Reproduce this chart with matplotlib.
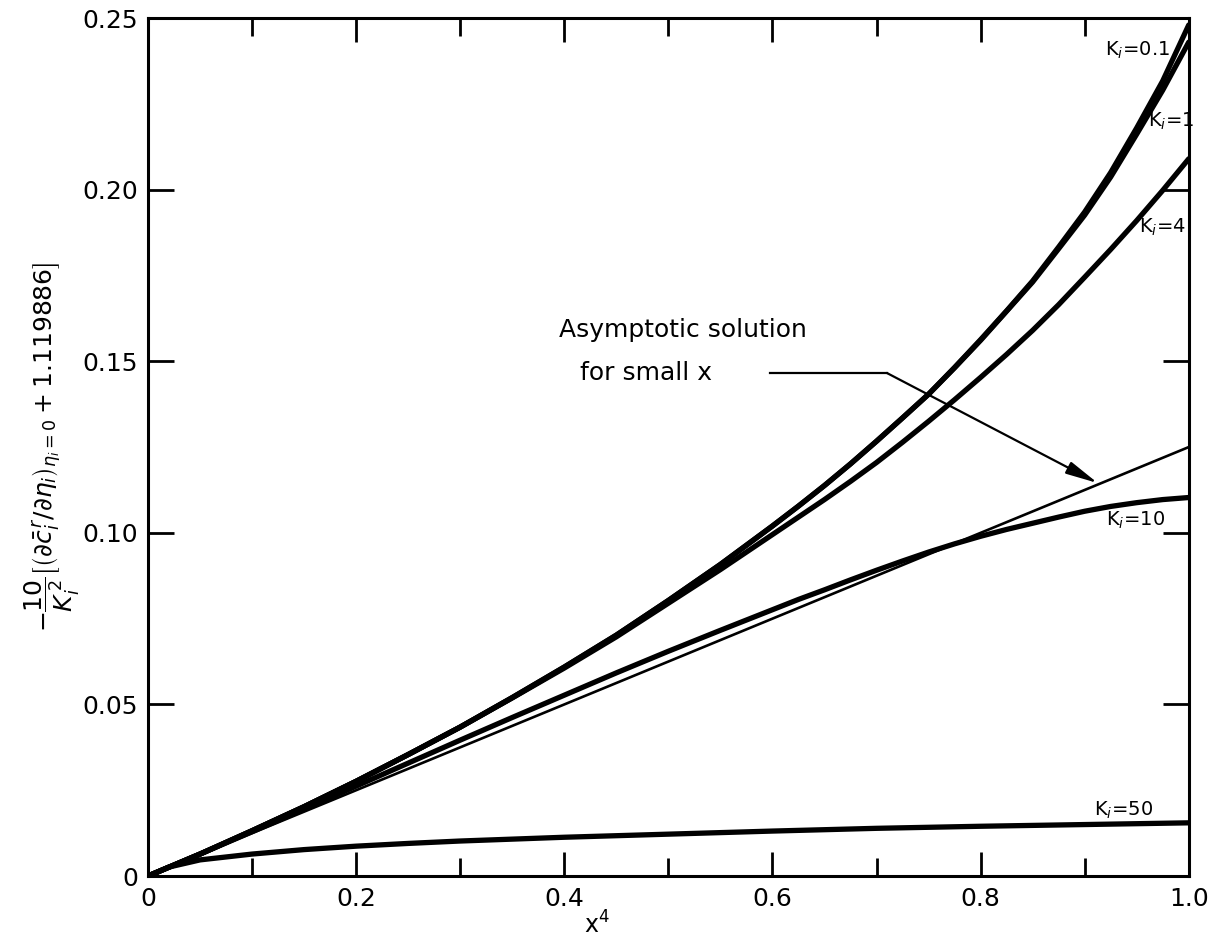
import matplotlib
matplotlib.use("Agg")
import matplotlib.pyplot as plt

# x^4 grid the curves were read on (denser where they bend)
x4 = [0.0, 0.05, 0.10, 0.15, 0.20, 0.25, 0.30, 0.35, 0.40, 0.45, 0.50, 0.55,
      0.600, 0.625, 0.650, 0.675, 0.700, 0.725, 0.750, 0.775, 0.800, 0.825,
      0.850, 0.875, 0.900, 0.925, 0.950, 0.975, 1.0]

k01 = [0.0, 0.0064, 0.0132, 0.0202, 0.0276, 0.0354, 0.0434, 0.0520, 0.0609, 0.0702, 0.0803, 0.0908,
       0.1020, 0.1078, 0.1138, 0.1201, 0.1267, 0.1335, 0.1404, 0.1482, 0.1563, 0.1647,
       0.1734, 0.1833, 0.1935, 0.2050, 0.2180, 0.2317, 0.2480]
k1 = [0.0, 0.0064, 0.0132, 0.0202, 0.0276, 0.0354, 0.0434, 0.0520, 0.0609, 0.0702, 0.0803, 0.0908,
      0.1020, 0.1078, 0.1138, 0.1201, 0.1267, 0.1335, 0.1404, 0.1481, 0.1561, 0.1646,
      0.1731, 0.1828, 0.1926, 0.2037, 0.2162, 0.2290, 0.2430]
k4 = [0.0, 0.0064, 0.0132, 0.0202, 0.0276, 0.0354, 0.0434, 0.0519, 0.0606, 0.0697, 0.0795, 0.0893,
      0.0995, 0.1046, 0.1097, 0.1150, 0.1205, 0.1264, 0.1325, 0.1388, 0.1453, 0.1520,
      0.1590, 0.1665, 0.1745, 0.1826, 0.1910, 0.1998, 0.2090]
k10 = [0.0, 0.0064, 0.0129, 0.0195, 0.0262, 0.0329, 0.0396, 0.0462, 0.0527, 0.0592, 0.0655, 0.0716,
       0.0776, 0.0806, 0.0834, 0.0863, 0.0891, 0.0918, 0.0944, 0.0968, 0.0990, 0.1010,
       0.1028, 0.1046, 0.1063, 0.1077, 0.1088, 0.1097, 0.1103]

k50_x = [0.0, 0.02, 0.05, 0.10, 0.15, 0.20, 0.25, 0.30, 0.40, 0.50, 0.60, 0.70, 0.80, 0.90, 1.0]
k50 = [0.0, 0.0026, 0.0047, 0.0064, 0.0077, 0.0087, 0.0095, 0.0102, 0.0113, 0.0122, 0.0131,
       0.0139, 0.0145, 0.0150, 0.0155]

asym_x = [0.0, 1.0]
asym_y = [0.0, 0.125]

curve_labels = ['0.1', '1', '4', '10', '50']
label_pos = [(0.951, 0.2407), (0.983, 0.2200), (0.975, 0.1890), (0.949, 0.1037), (0.937, 0.0192)]

x_ticks = [0.0, 0.2, 0.4, 0.6, 0.8, 1.0]
x_ticklabels = ['0', '0.2', '0.4', '0.6', '0.8', '1.0']
x_minor = [0.1, 0.3, 0.5, 0.7, 0.9]
y_ticks = [0.0, 0.05, 0.10, 0.15, 0.20, 0.25]
y_ticklabels = ['0', '0.05', '0.10', '0.15', '0.20', '0.25']

plt.rcParams['font.family'] = ['DejaVu Sans']

fig = plt.figure(figsize=(12.13, 9.49), dpi=100)
ax = fig.add_axes([0.122, 0.0769, 0.858, 0.904])

thick = 3.8
for ys in (k01, k1, k4, k10):
    ax.plot(x4, ys, color='black', lw=thick, solid_capstyle='round', solid_joinstyle='round')
ax.plot(k50_x, k50, color='black', lw=thick, solid_capstyle='round', solid_joinstyle='round')
ax.plot(asym_x, asym_y, color='black', lw=1.9)

for name, (lx, ly) in zip(curve_labels, label_pos):
    ax.text(lx, ly, r'K$_i$=' + name, fontsize=14, ha='center', va='center')

# annotation for the asymptotic line
ax.text(0.395, 0.1590, 'Asymptotic solution', fontsize=18, ha='left', va='center')
ax.text(0.415, 0.1466, 'for small x', fontsize=18, ha='left', va='center')
ax.plot([0.5975, 0.7099], [0.1466, 0.1466], color='black', lw=1.6)
ax.annotate('', xy=(0.9126, 0.1145), xytext=(0.7099, 0.1466),
            arrowprops=dict(arrowstyle='-|>,head_width=0.14,head_length=0.7',
                            color='black', lw=1.6, mutation_scale=28,
                            shrinkA=0, shrinkB=0))

ax.set_xlim(0, 1.0)
ax.set_ylim(0, 0.25)
ax.set_xticks(x_ticks)
ax.set_xticklabels(x_ticklabels)
ax.set_xticks(x_minor, minor=True)
ax.set_yticks(y_ticks)
ax.set_yticklabels(y_ticklabels)

ax.tick_params(axis='x', which='major', direction='in', top=True, length=17, width=2,
               labelsize=18, pad=8)
ax.tick_params(axis='x', which='minor', direction='in', top=True, length=13, width=2)
ax.tick_params(axis='y', which='major', direction='in', right=True, length=19, width=2,
               labelsize=18, pad=7)
for side in ax.spines.values():
    side.set_linewidth(2.2)

ax.text(0.431, -0.057, r'x$^4$', transform=ax.transAxes, fontsize=17,
        ha='center', va='center')
ax.set_ylabel(r'$-\dfrac{10}{K_i^{\,2}}\left[\left(\partial \bar{c}_i^{\,r}/\partial \eta_i\right)_{\eta_i=0}+1.119886\right]$',
              fontsize=18)
ax.yaxis.set_label_coords(-0.063, 0.5)

fig.savefig('out.png', dpi=100)
